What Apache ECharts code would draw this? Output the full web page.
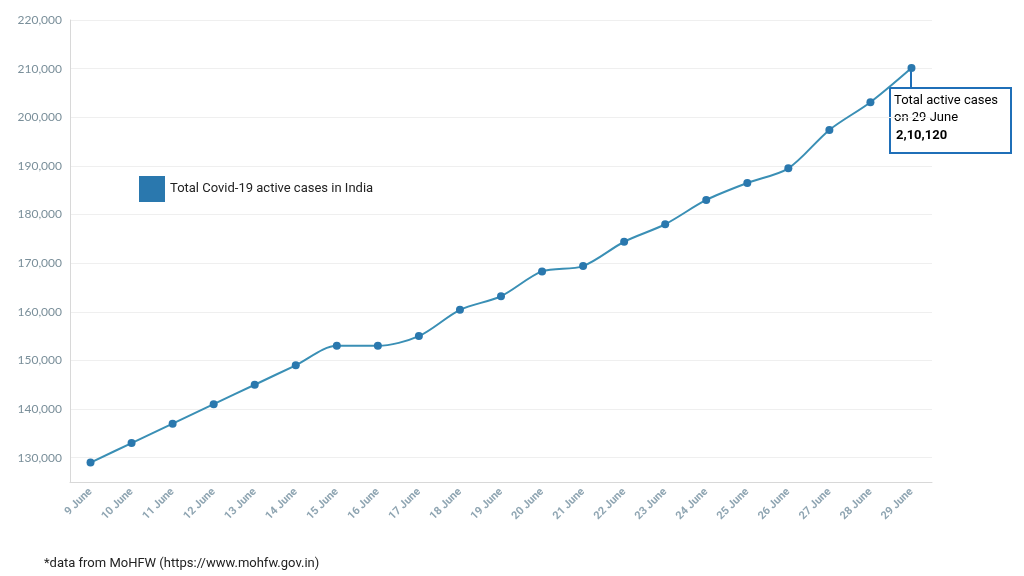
<!DOCTYPE html>
<html>
<head>
<meta charset="utf-8">
<script src="https://cdn.jsdelivr.net/npm/echarts@6/dist/echarts.min.js"></script>
<style>html,body{margin:0;background:#fff}#main{width:1024px;height:576px}</style>
</head>
<body>
<div id="main"></div>
<script>
// 数据
const days = ['9 June','10 June','11 June','12 June','13 June','14 June','15 June','16 June','17 June','18 June',
  '19 June','20 June','21 June','22 June','23 June','24 June','25 June','26 June','27 June','28 June','29 June'];
const activeCases = [129000,133000,137000,141000,145000,149000,153000,153000,155000,160400,
  163200,168300,169400,174400,178000,183000,186500,189500,197400,203100,210120];

let myChart = echarts.init(document.getElementById('main'));

let option = {
  animation: false,
  grid: {left: 70, right: 92, top: 20, bottom: 94},
  legend: {
    left: 134, top: 171, itemWidth: 26, itemHeight: 26, icon: 'rect',
    textStyle: {fontFamily: 'Roboto', fontSize: 13, color: '#222'},
    data: ['Total Covid-19 active cases in India']
  },
  xAxis: {
    type: 'category', data: days, boundaryGap: true,
    axisLine: {lineStyle: {color: '#d8d8d8'}},
    axisTick: {show: false},
    axisLabel: {rotate: 45, interval: 0, color: '#8fa5b2', fontWeight: 'bold', fontSize: 11, fontFamily: 'Roboto'}
  },
  yAxis: {
    type: 'value', min: 125000, max: 220000, interval: 5000,
    axisLine: {show: true, lineStyle: {color: '#d8d8d8'}},
    axisTick: {show: false},
    axisLabel: {
      color: '#7a8f9a', fontSize: 12, fontFamily: 'Lato',
      formatter: v => v % 10000 === 0 ? v.toLocaleString('en-US') : ''
    },
    splitLine: {lineStyle: {color: ['transparent', '#efefef']}}
  },
  series: [{
    name: 'Total Covid-19 active cases in India',
    type: 'line', data: activeCases, smooth: 0.3,
    symbol: 'circle', symbolSize: 8,
    color: '#1f73bd',
    lineStyle: {color: '#3a8fb5', width: 2},
    itemStyle: {color: '#2a78ae'}
  }],
  graphic: [
    {type: 'line', shape: {x1: 911, y1: 70, x2: 911, y2: 88}, style: {stroke: '#1f6fb8', lineWidth: 2}},
    {type: 'rect', shape: {x: 890, y: 88, width: 121, height: 65}, style: {fill: '#fff', stroke: '#1f6fb8', lineWidth: 2}},
    {type: 'text', left: 894, top: 94, style: {text: 'Total active cases', fill: '#000', font: '13px Roboto'}},
    {type: 'text', left: 894, top: 111, style: {text: 'on 29 June', fill: '#000', font: '13px Roboto'}},
    {type: 'text', left: 896, top: 129, style: {text: '2,10,120', fill: '#000', font: 'bold 13px Roboto'}},
    {type: 'text', left: 44, top: 557, style: {text: '*data from MoHFW (https://www.mohfw.gov.in)', fill: '#222', font: '13px Roboto'}}
  ]
};

myChart.setOption(option);
</script>
</body>
</html>
